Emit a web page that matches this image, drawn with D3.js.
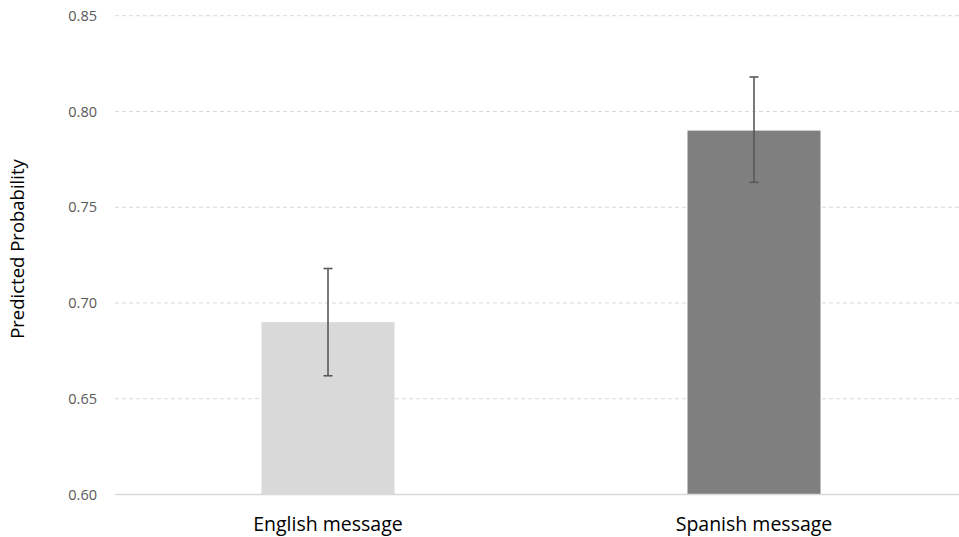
<!DOCTYPE html>
<html>
<head>
<meta charset="utf-8">
<script src="https://cdn.jsdelivr.net/npm/d3@7"></script>
<style>
  html, body { margin: 0; padding: 0; background: #fff; }
  svg { display: block; }
</style>
</head>
<body>
<svg id="chart" width="959" height="537"></svg>
<script>
// Predicted probability by message language, with confidence intervals
const categories = ["English message", "Spanish message"];
const values = [0.690, 0.790];
const lower = [0.662, 0.763];
const upper = [0.718, 0.818];
const barColors = ["#d9d9d9", "#7f7f7f"];
const yTicks = [0.60, 0.65, 0.70, 0.75, 0.80, 0.85];

const svg = d3.select("#chart");
const fontFamily = "'Open Sans', 'Liberation Sans', sans-serif";

const x = d3.scalePoint().domain(categories).range([115, 967]).padding(0.5);
const y = d3.scaleLinear().domain([0.60, 0.85]).range([494.5, 15.7]);
const barWidth = 133;
const capWidth = 9;

// horizontal dashed gridlines
svg.append("g")
  .selectAll("line")
  .data(yTicks.slice(1))
  .join("line")
  .attr("x1", 115).attr("x2", 959)
  .attr("y1", d => y(d)).attr("y2", d => y(d))
  .attr("stroke", "#d9d9d9")
  .attr("stroke-width", 1)
  .attr("stroke-dasharray", "4,3");

// y tick labels
svg.append("g")
  .selectAll("text")
  .data(yTicks)
  .join("text")
  .attr("x", 97)
  .attr("y", d => y(d))
  .attr("dy", "0.35em")
  .attr("text-anchor", "end")
  .attr("font-family", fontFamily)
  .attr("font-size", 14.5)
  .attr("fill", "#595959")
  .text(d => d3.format(".2f")(d));

// bars
svg.append("g")
  .selectAll("rect")
  .data(categories)
  .join("rect")
  .attr("x", d => x(d) - barWidth / 2)
  .attr("width", barWidth)
  .attr("y", (d, i) => y(values[i]))
  .attr("height", (d, i) => y(0.60) - y(values[i]))
  .attr("fill", (d, i) => barColors[i]);

// baseline axis
svg.append("line")
  .attr("x1", 115).attr("x2", 959)
  .attr("y1", y(0.60)).attr("y2", y(0.60))
  .attr("stroke", "#d9d9d9")
  .attr("stroke-width", 1.3);

// error bars
const err = svg.append("g")
  .attr("stroke", "#595959")
  .attr("stroke-width", 1.6);
categories.forEach((c, i) => {
  const cx = x(c);
  err.append("line")
    .attr("x1", cx).attr("x2", cx)
    .attr("y1", y(upper[i])).attr("y2", y(lower[i]));
  [upper[i], lower[i]].forEach(v => {
    err.append("line")
      .attr("x1", cx - capWidth / 2).attr("x2", cx + capWidth / 2)
      .attr("y1", y(v)).attr("y2", y(v));
  });
});

// category labels
svg.append("g")
  .selectAll("text")
  .data(categories)
  .join("text")
  .attr("x", d => x(d))
  .attr("y", 530.5)
  .attr("text-anchor", "middle")
  .attr("font-family", fontFamily)
  .attr("font-size", 19.5)
  .attr("fill", "#000")
  .text(d => d);

// y axis title
svg.append("text")
  .attr("transform", "translate(24, 249) rotate(-90)")
  .attr("text-anchor", "middle")
  .attr("font-family", fontFamily)
  .attr("font-size", 18.5)
  .attr("fill", "#000")
  .text("Predicted Probability");
</script>
</body>
</html>
